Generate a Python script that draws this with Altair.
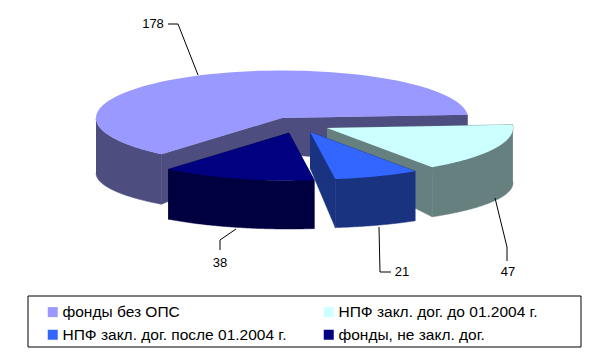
import altair as alt
import math
import pandas as pd

# chart values
names = ["фонды без ОПС", "НПФ закл. дог. до 01.2004 г.", "НПФ закл. дог. после 01.2004 г.", "фонды, не закл. дог."]
values = [178, 47, 21, 38]
top_colors = ["#9999FF", "#CCFFFF", "#3366FF", "#000080"]
side_colors = ["#4D4D80", "#668080", "#1A3380", "#000040"]
centers_x = [282, 327, 310, 289]
centers_y = [118, 128, 132, 133]
label_x = [153, 508, 402, 220]
label_y = [24, 272, 272, 263]
leader_x = [[168, 178, 198], [495, 507, 507], [379, 380, 391], [236, 220, 220]]
leader_y = [[24, 24, 75], [198, 247, 261], [227, 272, 272], [229, 240, 250]]
paint_order = [0, 1, 3, 2]
legend_order = [0, 2, 1, 3]

A, B, B2, DEPTH, APEX_DEPTH, START = 186, 47.5, 41, 55, 36, 4

X = alt.X("x:Q", axis=None, scale=alt.Scale(domain=[8, 590], range=[0, 582], nice=False, zero=False))
Y = alt.Y("y:Q", axis=None, scale=alt.Scale(domain=[8, 350], range=[0, 342], nice=False, zero=False))

total = sum(values)
spans = {0: (START, START + values[0] / total * 360)}
a = START
for i in (1, 2, 3):
    s = values[i] / total * 360
    spans[i] = (a, a - s)
    a -= s


def t_grid(a0, a1):
    n = 80
    return [a0 + (a1 - a0) * k / n for k in range(n + 1)]


def top_pt(i, t):
    r = math.radians(t)
    return centers_x[i] + A * math.cos(r), centers_y[i] - B * math.sin(r)


def bot_pt(i, t):
    r = math.radians(t)
    return centers_x[i] + A * math.cos(r), centers_y[i] + DEPTH - B2 * math.sin(r)


def poly(points, **extra):
    return pd.DataFrame([dict(x=p[0], y=p[1], i=k, **extra) for k, p in enumerate(points)])


def piece(points, color):
    return alt.Chart(poly(points)).mark_line(fill=color, stroke=color, strokeWidth=0.5, interpolate="linear").encode(
        x=X, y=Y, order=alt.Order("i:Q"))


layers = []
fill_enc = alt.Fill("name:N", sort=None,
                    scale=alt.Scale(domain=[names[k] for k in legend_order],
                                    range=[top_colors[k] for k in legend_order]),
                    legend=alt.Legend(title=None, orient="none", legendX=37, legendY=296, columns=2,
                                      symbolType="square", symbolSize=100, symbolStrokeWidth=0,
                                      labelFont="Liberation Sans", labelFontSize=15.5, labelColor="#000000",
                                      labelLimit=300, columnPadding=34, rowPadding=6, labelOffset=2,
                                      symbolOpacity=1, padding=0))

# legend frame
frame = pd.DataFrame({"x": [28], "x2": [581], "y": [296], "y2": [347]})
layers.append(alt.Chart(frame).mark_rect(fill="white", stroke="black", strokeWidth=1).encode(
    x=X, x2="x2:Q", y=Y, y2="y2:Q"))

for i in paint_order:
    a0, a1 = spans[i]
    ts = t_grid(a0, a1)
    c = side_colors[i]
    apex_top = (centers_x[i], centers_y[i])
    apex_bot = (centers_x[i], centers_y[i] + APEX_DEPTH)
    # cut faces
    layers.append(piece([apex_top, top_pt(i, a0), bot_pt(i, a0), apex_bot], c))
    layers.append(piece([apex_top, top_pt(i, a1), bot_pt(i, a1), apex_bot], c))
    # outer wall: only the part that faces the viewer
    wall = t_grid(max(a0, 180), a1) if a1 > a0 else ts
    layers.append(piece([top_pt(i, t) for t in wall] + [bot_pt(i, t) for t in reversed(wall)], c))
    # top face
    top_df = poly([apex_top] + [top_pt(i, t) for t in ts], name=names[i])
    layers.append(alt.Chart(top_df).mark_line(strokeWidth=0, interpolate="linear").encode(
        x=X, y=Y, order=alt.Order("i:Q"), fill=fill_enc))

# leader lines
for i in range(4):
    ld = pd.DataFrame({"x": leader_x[i], "y": leader_y[i], "i": range(3)})
    layers.append(alt.Chart(ld).mark_line(color="black", strokeWidth=1).encode(x=X, y=Y, order=alt.Order("i:Q")))

# value labels
lab = pd.DataFrame({"x": label_x, "y": label_y, "v": values})
layers.append(alt.Chart(lab).mark_text(font="Liberation Sans", fontSize=13, color="#000000").encode(
    x=X, y=Y, text="v:Q"))

chart = alt.layer(*layers).properties(
    width=582, height=342, padding=0, autosize=alt.AutoSizeParams(type="none"), background="white"
).configure_view(stroke=None)

chart.save("out.html", embed_options={"renderer": "svg", "actions": False})
